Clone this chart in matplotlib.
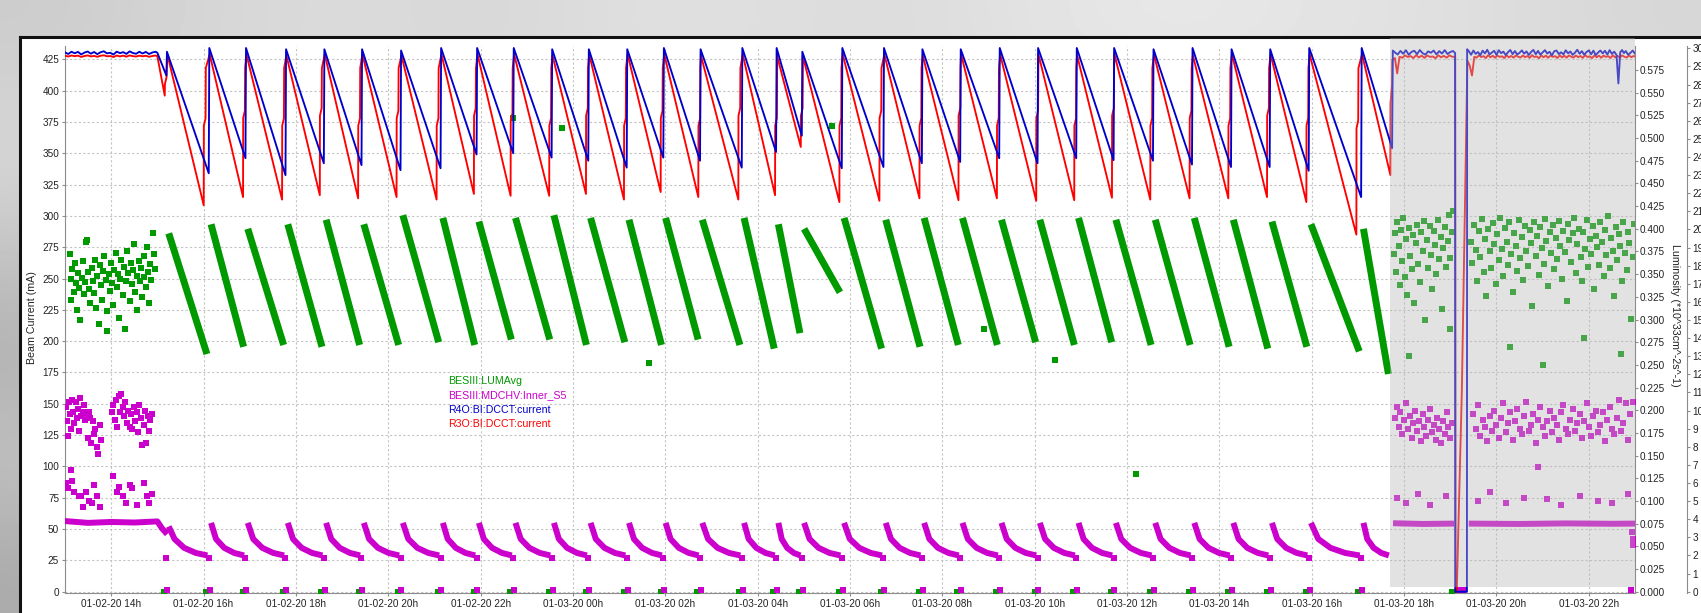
import numpy as np
import pandas as pd
import matplotlib
matplotlib.use("Agg")
import matplotlib.pyplot as plt
import matplotlib.dates as mdates
from matplotlib.patches import Rectangle
from matplotlib.lines import Line2D

# ============================================================
# Data  (times are hours after 2020-01-02 00:00)
# ============================================================
T0 = pd.Timestamp("2020-01-02 00:00")

# flat beam current before the first decay
flat_t = [13.00, 13.07, 13.14, 13.21, 13.28, 13.35, 13.42, 13.49, 13.56, 13.63,
          13.70, 13.77, 13.84, 13.91, 13.98, 14.05, 14.12, 14.19, 14.26, 14.33,
          14.40, 14.47, 14.54, 14.61, 14.68, 14.75, 14.82, 14.89, 14.96, 15.00]
blue_flat = [430.5, 429.2, 431.0, 429.8, 430.9, 428.9, 430.3, 431.2, 429.5, 430.8,
             429.1, 430.6, 431.4, 429.7, 430.2, 428.8, 431.1, 429.9, 430.7, 429.3,
             431.3, 430.0, 429.4, 431.0, 429.6, 430.9, 429.2, 430.4, 431.0, 430.2]
red_flat = [427.8, 427.2, 428.0, 427.5, 427.9, 426.9, 427.6, 428.1, 427.3, 427.7,
            427.0, 427.8, 428.2, 427.4, 427.6, 426.8, 428.0, 427.3, 427.9, 427.1,
            428.1, 427.5, 427.2, 427.9, 427.4, 427.8, 427.0, 427.6, 428.0, 427.5]

# injection cycles: time of refill and current just before it
blue_inj = [15.196, 16.113, 16.908, 17.775, 18.605, 19.421, 20.266, 21.133, 21.913, 22.706,
            23.538, 24.332, 25.164, 25.957, 26.752, 27.656, 28.399, 28.956, 29.822, 30.724,
            31.556, 32.386, 33.231, 34.061, 34.899, 35.708, 36.561, 37.406, 38.251, 39.088,
            39.933, 41.069]
blue_low = [412, 334, 346, 332.5, 342, 340.5, 336.5, 338, 349, 350,
            346.5, 344, 338.5, 346.5, 344, 338.5, 351, 364, 338, 339,
            342, 343, 346, 342, 346, 344.5, 344, 341, 339, 339,
            336, 315]
blue_peak = [431, 434, 434, 433, 433, 433, 432, 434, 434, 434,
             433, 433, 433, 434, 433, 434, 434, 431, 434, 434,
             433, 433, 434, 434, 434, 434, 433, 434, 433, 433,
             434, 434]
red_inj = [15.160, 16.004, 16.856, 17.701, 18.518, 19.348, 20.180, 21.047, 21.855, 22.650,
           23.486, 24.282, 25.105, 25.900, 26.715, 27.582, 28.377, 28.934, 29.770, 30.637,
           31.504, 32.349, 33.181, 34.033, 34.856, 35.673, 36.503, 37.354, 38.193, 39.031,
           39.883, 40.966]
red_low = [396, 308.5, 315, 313, 316.5, 314, 315, 313, 317.5, 316,
           316, 317.5, 313, 319, 315, 313, 316.5, 355, 311, 312,
           314, 312.5, 314, 312, 312.5, 314.5, 313, 314, 314, 315,
           311, 285]
red_step = [405, 372, 378, 372, 380, 372, 378, 372, 380, 376,
            372, 380, 372, 378, 372, 380, 372, 380, 372, 378,
            372, 380, 372, 378, 372, 380, 372, 378, 372, 380,
            372, 370]
red_peak = [429, 429, 429, 428, 429, 429, 428, 429, 429, 429,
            428, 429, 429, 429, 428, 429, 428, 428, 429, 429,
            428, 429, 429, 429, 428, 429, 429, 428, 429, 429,
            429, 429]

# shaded period (beam kept topped up, one beam loss)
shade_start, shade_end = 41.688, 47.0
blue_gray_t = [41.740, 41.755, 41.80, 41.86, 41.92, 41.98, 42.04, 42.10, 42.16, 42.22,
               42.28, 42.34, 42.40, 42.46, 42.52, 42.58, 42.64, 42.70, 42.76, 42.82,
               42.88, 42.94, 43.00, 43.06, 43.105, 43.110, 43.360, 43.365, 43.40, 43.45,
               43.50, 43.55, 43.60, 43.65, 43.70, 43.75, 43.80, 43.85, 43.90, 43.95,
               44.00, 44.05, 44.10, 44.15, 44.20, 44.25, 44.30, 44.35, 44.40, 44.45,
               44.50, 44.55, 44.60, 44.65, 44.70, 44.75, 44.80, 44.85, 44.90, 44.95,
               45.00, 45.05, 45.10, 45.15, 45.20, 45.25, 45.30, 45.35, 45.40, 45.45,
               45.50, 45.55, 45.60, 45.65, 45.70, 45.75, 45.80, 45.85, 45.90, 45.95,
               46.00, 46.05, 46.10, 46.15, 46.20, 46.25, 46.30, 46.35, 46.40, 46.45,
               46.50, 46.55, 46.60, 46.64, 46.68, 46.72, 46.76, 46.80, 46.85, 46.90,
               46.95, 47.00]
blue_gray_v = [354, 432, 430.5, 428.8, 431.7, 429.4, 432.2, 428.6, 430.9, 431.8,
               429.1, 432.4, 429.9, 428.7, 431.3, 430.2, 432.0, 428.9, 431.5, 429.6,
               432.3, 429.2, 430.8, 431.6, 430, 0, 0, 433, 431.5, 428.6,
               432.0, 429.3, 430.8, 428.2, 431.9, 429.7, 432.6, 428.9, 430.4, 431.8,
               428.5, 432.2, 429.9, 431.1, 428.3, 430.7, 432.4, 429.1, 431.6, 428.8,
               430.2, 432.1, 429.5, 431.3, 428.4, 430.9, 432.5, 429.0, 431.7, 428.7,
               430.5, 432.3, 429.6, 431.0, 428.1, 431.4, 432.0, 429.2, 430.6, 428.9,
               432.2, 429.8, 431.2, 428.5, 430.3, 432.6, 429.4, 431.5, 428.6, 430.8,
               432.1, 429.0, 431.9, 428.3, 430.4, 432.0, 429.7, 431.8, 428.8, 432.3,
               429.3, 431.1, 428.4, 405.7, 430.6, 432.4, 429.9, 431.6, 428.7, 430.1,
               432.0, 429.5]
red_gray_t = [41.703, 41.706, 41.740, 41.745, 41.80, 41.85, 41.90, 41.96, 42.02, 42.08,
              42.14, 42.20, 42.26, 42.32, 42.38, 42.44, 42.50, 42.56, 42.62, 42.68,
              42.74, 42.80, 42.86, 42.92, 42.98, 43.04, 43.105, 43.110, 43.14, 43.25,
              43.37, 43.42, 43.47, 43.52, 43.57, 43.62, 43.67, 43.72, 43.77, 43.82,
              43.87, 43.92, 43.97, 44.02, 44.07, 44.12, 44.17, 44.22, 44.27, 44.32,
              44.37, 44.42, 44.47, 44.52, 44.57, 44.62, 44.67, 44.72, 44.77, 44.82,
              44.87, 44.92, 44.97, 45.02, 45.07, 45.12, 45.17, 45.22, 45.27, 45.32,
              45.37, 45.42, 45.47, 45.52, 45.57, 45.62, 45.67, 45.72, 45.77, 45.82,
              45.87, 45.92, 45.97, 46.02, 46.07, 46.12, 46.17, 46.22, 46.27, 46.32,
              46.37, 46.42, 46.47, 46.52, 46.57, 46.62, 46.67, 46.72, 46.77, 46.82,
              46.87, 46.92, 46.97, 47.00]
red_gray_v = [332.5, 390, 405, 424, 426, 413.7, 427, 426.2, 428.1, 426.8,
              427.6, 425.9, 428.3, 426.5, 427.9, 426.1, 428.0, 426.9, 427.3, 425.8,
              428.2, 426.6, 427.7, 426.3, 428.1, 427.0, 427, 0, 0, 160,
              424, 420, 412, 427, 426.3, 428.2, 426.8, 427.5, 426.0, 428.3,
              426.6, 427.8, 426.2, 428.0, 426.9, 427.4, 425.9, 428.2, 426.5, 427.7,
              426.3, 428.1, 427.0, 426.4, 428.0, 426.7, 427.6, 426.1, 428.3, 426.8,
              427.3, 425.8, 428.1, 426.6, 427.9, 426.2, 428.0, 426.9, 427.5, 426.0,
              428.2, 426.5, 427.8, 426.3, 428.1, 427.0, 426.4, 428.0, 426.7, 427.6,
              426.1, 428.3, 426.8, 427.3, 425.9, 428.1, 426.6, 427.9, 426.2, 428.0,
              426.9, 427.5, 426.0, 428.2, 426.5, 427.8, 426.3, 428.1, 427.0, 426.4,
              428.0, 426.7, 427.6, 427.2]

# BESIII:LUMAvg (luminosity axis), one decaying stripe per fill
green_top = [0.395, 0.405, 0.400, 0.405, 0.410, 0.405, 0.415, 0.412, 0.408, 0.412,
             0.415, 0.412, 0.410, 0.412, 0.410, 0.412, 0.405, 0.400, 0.412, 0.410,
             0.412, 0.412, 0.410, 0.410, 0.412, 0.410, 0.410, 0.412, 0.410, 0.408,
             0.405, 0.400]
green_bot = [0.262, 0.270, 0.272, 0.270, 0.272, 0.272, 0.275, 0.272, 0.278, 0.278,
             0.272, 0.275, 0.272, 0.278, 0.272, 0.268, 0.285, 0.330, 0.268, 0.270,
             0.272, 0.272, 0.275, 0.272, 0.275, 0.272, 0.272, 0.270, 0.268, 0.270,
             0.265, 0.240]
green_cloud_t = [13.10, 13.12, 13.14, 13.16, 13.19, 13.21, 13.24, 13.26, 13.28, 13.31,
                 13.33, 13.36, 13.38, 13.41, 13.43, 13.46, 13.48, 13.50, 13.53, 13.55,
                 13.58, 13.60, 13.63, 13.65, 13.68, 13.70, 13.73, 13.75, 13.78, 13.80,
                 13.83, 13.85, 13.88, 13.90, 13.92, 13.95, 13.97, 14.00, 14.02, 14.05,
                 14.07, 14.10, 14.12, 14.15, 14.17, 14.20, 14.22, 14.25, 14.27, 14.30,
                 14.32, 14.35, 14.37, 14.40, 14.42, 14.45, 14.47, 14.50, 14.52, 14.55,
                 14.57, 14.60, 14.62, 14.65, 14.67, 14.70, 14.72, 14.75, 14.77, 14.80,
                 14.82, 14.85, 14.87, 14.90, 14.92, 14.95]
green_cloud_v = [0.372, 0.345, 0.322, 0.356, 0.330, 0.362, 0.340, 0.310, 0.351, 0.335,
                 0.300, 0.346, 0.365, 0.328, 0.341, 0.385, 0.388, 0.352, 0.334, 0.318,
                 0.357, 0.343, 0.329, 0.366, 0.313, 0.348, 0.295, 0.360, 0.338, 0.322,
                 0.353, 0.370, 0.344, 0.309, 0.287, 0.350, 0.331, 0.362, 0.340, 0.316,
                 0.355, 0.373, 0.336, 0.350, 0.302, 0.345, 0.366, 0.327, 0.358, 0.290,
                 0.343, 0.376, 0.351, 0.320, 0.362, 0.339, 0.355, 0.383, 0.330, 0.348,
                 0.311, 0.364, 0.342, 0.357, 0.325, 0.370, 0.347, 0.336, 0.380, 0.352,
                 0.318, 0.361, 0.344, 0.395, 0.372, 0.356]
green_gray_t = [41.78, 41.80, 41.83, 41.85, 41.88, 41.90, 41.93, 41.95, 41.98, 42.01,
                42.04, 42.07, 42.10, 42.13, 42.16, 42.19, 42.22, 42.25, 42.28, 42.31,
                42.34, 42.37, 42.40, 42.43, 42.46, 42.49, 42.52, 42.55, 42.58, 42.61,
                42.64, 42.67, 42.70, 42.73, 42.76, 42.79, 42.82, 42.85, 42.88, 42.91,
                42.94, 42.97, 43.00, 43.03, 43.06,
                43.45, 43.48, 43.52, 43.55, 43.58, 43.62, 43.65, 43.68, 43.72, 43.75,
                43.78, 43.82, 43.85, 43.88, 43.92, 43.95, 43.98, 44.02, 44.05, 44.08,
                44.12, 44.15, 44.18, 44.22, 44.25, 44.28, 44.32, 44.35, 44.38, 44.42,
                44.45, 44.48, 44.52, 44.55, 44.58, 44.62, 44.65, 44.68, 44.72, 44.75,
                44.78, 44.82, 44.85, 44.88, 44.92, 44.95, 44.98, 45.02, 45.05, 45.08,
                45.12, 45.15, 45.18, 45.22, 45.25, 45.28, 45.32, 45.35, 45.38, 45.42,
                45.45, 45.48, 45.52, 45.55, 45.58, 45.62, 45.65, 45.68, 45.72, 45.75,
                45.78, 45.82, 45.85, 45.88, 45.92, 45.95, 45.98, 46.02, 46.05, 46.08,
                46.12, 46.15, 46.18, 46.22, 46.25, 46.28, 46.32, 46.35, 46.38, 46.42,
                46.45, 46.48, 46.52, 46.55, 46.58, 46.62, 46.65, 46.68, 46.72, 46.75,
                46.78, 46.82, 46.85, 46.88, 46.92, 46.95, 46.98,
                42.10, 43.00, 44.30, 45.00, 45.90, 46.70]
green_gray_v = [0.372, 0.395, 0.352, 0.408, 0.381, 0.338, 0.399, 0.365, 0.412, 0.347,
                0.389, 0.327, 0.401, 0.370, 0.356, 0.393, 0.318, 0.384, 0.404, 0.361,
                0.341, 0.396, 0.376, 0.409, 0.300, 0.388, 0.357, 0.403, 0.371, 0.334,
                0.398, 0.382, 0.350, 0.410, 0.367, 0.391, 0.312, 0.379, 0.402, 0.358,
                0.387, 0.415, 0.368, 0.397, 0.420,
                0.385, 0.362, 0.404, 0.377, 0.343, 0.398, 0.369, 0.411, 0.352, 0.389,
                0.326, 0.400, 0.375, 0.357, 0.406, 0.383, 0.339, 0.394, 0.366, 0.412,
                0.378, 0.348, 0.401, 0.386, 0.360, 0.408, 0.372, 0.330, 0.395, 0.381,
                0.353, 0.410, 0.368, 0.391, 0.344, 0.403, 0.376, 0.359, 0.399, 0.384,
                0.315, 0.407, 0.370, 0.392, 0.349, 0.402, 0.379, 0.361, 0.411, 0.387,
                0.337, 0.396, 0.373, 0.404, 0.356, 0.390, 0.367, 0.409, 0.381, 0.345,
                0.398, 0.374, 0.320, 0.405, 0.388, 0.363, 0.395, 0.412, 0.351, 0.383,
                0.400, 0.369, 0.342, 0.397, 0.378, 0.410, 0.358, 0.389, 0.372, 0.403,
                0.334, 0.392, 0.380, 0.360, 0.407, 0.385, 0.348, 0.399, 0.371, 0.414,
                0.357, 0.390, 0.376, 0.326, 0.402, 0.366, 0.394, 0.381, 0.343, 0.408,
                0.373, 0.355, 0.397, 0.384, 0.301, 0.369, 0.405,
                0.260, 0.290, 0.270, 0.250, 0.280, 0.262]
green_odd_t = [22.70, 23.77, 29.60, 25.65, 32.90, 34.45, 36.20]
green_odd_v = [0.522, 0.511, 0.513, 0.252, 0.290, 0.255, 0.130]

# BESIII:MDCHV:Inner_S5 (third axis), decaying curve per fill
mag_shape_frac = [0.0, 0.15, 0.4, 0.7, 1.0]
mag_shape_val = [3.80, 2.91, 2.42, 2.14, 2.00]
mag_flat_t = [13.00, 13.50, 14.00, 14.50, 15.00, 15.10, 15.17]
mag_flat_v = [3.90, 3.80, 3.85, 3.82, 3.88, 3.50, 3.30]
mag_hi_t = [13.02, 13.04, 13.06, 13.08, 13.10, 13.13, 13.15, 13.18, 13.20, 13.23,
            13.25, 13.28, 13.30, 13.33, 13.35, 13.38, 13.41, 13.43, 13.46, 13.49,
            13.52, 13.55, 13.57, 13.60, 13.62, 13.66, 13.70, 13.72, 13.75, 13.78,
            14.02, 14.05, 14.08, 14.10, 14.13, 14.16, 14.19, 14.22, 14.25, 14.28,
            14.31, 14.34, 14.37, 14.40, 14.43, 14.46, 14.49, 14.52, 14.55, 14.58,
            14.61, 14.64, 14.67, 14.70, 14.73, 14.76, 14.79, 14.82, 14.85, 14.88]
mag_hi_v = [10.2, 9.4, 8.6, 10.5, 9.8, 9.0, 10.6, 9.9, 9.3, 10.5,
            9.6, 10.1, 8.9, 10.7, 9.7, 9.9, 10.3, 9.5, 9.8, 8.5,
            9.9, 9.6, 8.2, 9.4, 8.7, 9.0, 8.0, 7.6, 9.2, 8.4,
            9.9, 10.3, 9.5, 10.6, 9.1, 10.8, 9.9, 10.9, 10.2, 9.7,
            10.5, 9.3, 10.0, 9.1, 9.8, 9.0, 10.2, 9.4, 9.9, 8.8,
            10.3, 9.6, 8.1, 9.2, 10.0, 8.2, 9.7, 8.9, 9.5, 9.8]
mag_mid_t = [13.03, 13.06, 13.12, 13.15, 13.20, 13.30, 13.35, 13.40, 13.45, 13.52,
             13.58, 13.63, 13.70, 13.75, 14.05, 14.12, 14.18, 14.25, 14.33, 14.40,
             14.45, 14.55, 14.70, 14.78, 14.82, 14.88]
mag_mid_v = [6.0, 5.7, 6.7, 6.1, 5.5, 5.3, 5.3, 4.7, 5.5, 5.0,
             4.9, 5.9, 5.3, 4.7, 6.4, 5.5, 5.8, 5.3, 4.9, 5.9,
             5.7, 4.8, 6.0, 5.3, 4.9, 5.4]
mag_gray_hi_t = [41.80, 41.84, 41.88, 41.92, 41.96, 42.00, 42.04, 42.08, 42.12, 42.16,
                 42.20, 42.24, 42.28, 42.32, 42.36, 42.40, 42.44, 42.48, 42.52, 42.56,
                 42.60, 42.64, 42.68, 42.72, 42.76, 42.80, 42.84, 42.88, 42.92, 42.96,
                 43.00, 43.04,
                 43.50, 43.55, 43.60, 43.65, 43.70, 43.75, 43.80, 43.85, 43.90, 43.95,
                 44.00, 44.05, 44.10, 44.15, 44.20, 44.25, 44.30, 44.35, 44.40, 44.45,
                 44.50, 44.55, 44.60, 44.65, 44.70, 44.75, 44.80, 44.85, 44.90, 44.95,
                 45.00, 45.05, 45.10, 45.15, 45.20, 45.25, 45.30, 45.35, 45.40, 45.45,
                 45.50, 45.55, 45.60, 45.65, 45.70, 45.75, 45.80, 45.85, 45.90, 45.95,
                 46.00, 46.05, 46.10, 46.15, 46.20, 46.25, 46.30, 46.35, 46.40, 46.45,
                 46.50, 46.55, 46.60, 46.65, 46.70, 46.75, 46.80, 46.85, 46.90, 46.95]
mag_gray_hi_v = [9.6, 10.2, 9.1, 9.9, 8.7, 9.5, 10.4, 9.0, 9.7, 8.5,
                 9.3, 10.0, 8.9, 9.4, 8.3, 9.8, 9.1, 8.6, 9.5, 10.1,
                 8.8, 9.2, 8.4, 9.6, 9.0, 8.2, 9.4, 8.7, 9.9, 9.1,
                 8.5, 9.3,
                 9.8, 9.0, 10.3, 8.6, 9.5, 9.1, 8.3, 9.7, 8.9, 10.0,
                 9.2, 8.5, 9.6, 10.4, 8.8, 9.3, 9.9, 8.4, 9.4, 10.1,
                 9.0, 8.7, 9.7, 10.5, 8.9, 9.2, 9.8, 8.2, 9.5, 10.2,
                 9.1, 8.6, 9.4, 10.0, 8.8, 9.6, 9.2, 8.4, 9.9, 10.3,
                 9.0, 8.7, 9.5, 10.1, 8.9, 9.3, 9.8, 8.5, 9.4, 10.4,
                 9.1, 8.6, 9.7, 10.0, 8.8, 9.2, 9.9, 8.3, 9.5, 10.2,
                 9.0, 8.7, 9.6, 10.6, 8.9, 9.3, 10.4, 8.4, 9.8, 10.5]
mag_gray_flat_t = [[41.76, 42.40, 43.08], [43.40, 44.50, 45.50, 46.50, 47.00]]
mag_gray_flat_v = [[3.78, 3.74, 3.76], [3.76, 3.74, 3.77, 3.75, 3.76]]
mag_gray_mid_t = [41.85, 42.05, 42.30, 42.55, 42.90, 43.60, 43.85, 44.20, 44.60, 44.90,
                  45.10, 45.40, 45.80, 46.20, 46.50, 46.85, 46.93, 46.95, 46.96]
mag_gray_mid_v = [5.2, 4.9, 5.4, 4.8, 5.3, 5.0, 5.5, 4.9, 5.2, 6.9,
                  5.1, 4.8, 5.3, 5.0, 4.9, 5.4, 3.3, 2.9, 2.6]

# blurred screen background around the chart panel (grey levels)
bg_levels = [[0.80, 0.84, 0.86, 0.84, 0.88, 0.87, 0.86, 0.90, 0.91, 0.89, 0.87, 0.84],
             [0.85, 0.86, 0.86, 0.86, 0.86, 0.86, 0.86, 0.86, 0.86, 0.86, 0.86, 0.86],
             [0.76, 0.86, 0.86, 0.86, 0.86, 0.86, 0.86, 0.86, 0.86, 0.86, 0.86, 0.86],
             [0.68, 0.86, 0.86, 0.86, 0.86, 0.86, 0.86, 0.86, 0.86, 0.86, 0.86, 0.86],
             [0.76, 0.86, 0.86, 0.86, 0.86, 0.86, 0.86, 0.86, 0.86, 0.86, 0.86, 0.86],
             [0.66, 0.86, 0.86, 0.86, 0.86, 0.86, 0.86, 0.86, 0.86, 0.86, 0.86, 0.86]]

# ============================================================
# Styling
# ============================================================
GREEN = "#009900"
MAGENTA = "#cc00cc"
BLUE = "#0000cc"
RED = "#ff0000"
TICK_FONT = 7.2
LABEL_FONT = 7.7
W, H = 1701, 613
AX_L, AX_R, AX_T, AX_B = 65, 1635, 46, 593

plt.rcParams["font.family"] = ["Liberation Sans", "DejaVu Sans"]


def to_time(hours):
    return T0 + pd.to_timedelta(np.asarray(hours, dtype=float), unit="h")


# ============================================================
# Build line vertices from the fills
# ============================================================
def blue_path():
    t = list(flat_t)
    v = list(blue_flat)
    for i in range(len(blue_inj)):
        t += [blue_inj[i], blue_inj[i] + 0.012]
        v += [blue_low[i], blue_peak[i]]
    return t + blue_gray_t, v + blue_gray_v


def red_path():
    t = list(flat_t)
    v = list(red_flat)
    for i in range(len(red_inj)):
        t += [red_inj[i], red_inj[i] + 0.003, red_inj[i] + 0.04, red_inj[i] + 0.045,
              blue_inj[i] + 0.02]
        v += [red_low[i], red_step[i], red_step[i] + 6, 418, red_peak[i]]
    return t + red_gray_t, v + red_gray_v


# ============================================================
# Figure
# ============================================================
fig = plt.figure(figsize=(W / 100, H / 100), dpi=100)
fig.patch.set_facecolor("#d8d8d8")

ax_bg = fig.add_axes([0, 0, 1, 1], zorder=-20)
ax_bg.imshow(bg_levels, cmap="gray", vmin=0, vmax=1, aspect="auto",
             interpolation="bicubic", extent=(0, 1, 0, 1))
ax_bg.set_axis_off()

fig.patches.append(Rectangle((20 / W, 0), 1 - 20 / W, (H - 37) / H,
                             transform=fig.transFigure, facecolor="white",
                             edgecolor="none", zorder=-10))
fig.lines.append(Line2D([20 / W, 20 / W], [0, (H - 37) / H], transform=fig.transFigure,
                        color="#111111", lw=2.2, zorder=-9))
fig.lines.append(Line2D([20 / W, 1], [(H - 37) / H, (H - 37) / H], transform=fig.transFigure,
                        color="#111111", lw=2.2, zorder=-9))

rect = [AX_L / W, (H - AX_B) / H, (AX_R - AX_L) / W, (AX_B - AX_T) / H]
ax = fig.add_axes(rect)
ax_lum = ax.twinx()
ax_hv = ax.twinx()
ax_cur = ax.twinx()

ax.set_ylim(-1.04, 435.6)
ax_cur.set_ylim(-1.04, 435.6)
ax_lum.set_ylim(-0.0014, 0.6015)
ax_hv.set_ylim(-0.072, 30.13)
x0, x1 = to_time([13.0, 47.0])
ax.set_xlim(x0, x1)

# --- green luminosity
for j in range(len(blue_inj)):
    t_end = blue_inj[j + 1] if j + 1 < len(blue_inj) else 41.70
    ts = to_time([blue_inj[j] + 0.05, t_end - 0.04])
    ax_lum.plot(ts, [green_top[j], green_bot[j]], color=GREEN, lw=5.0,
                solid_capstyle="butt")
ax_lum.scatter(to_time(green_cloud_t), green_cloud_v, marker="s", s=17, color=GREEN, lw=0)
ax_lum.scatter(to_time(green_gray_t), green_gray_v, marker="s", s=17, color=GREEN, lw=0)
ax_lum.scatter(to_time(green_odd_t), green_odd_v, marker="s", s=17, color=GREEN, lw=0)
ax_lum.scatter(to_time(np.array(blue_inj + [43.10]) - 0.06), np.zeros(len(blue_inj) + 1),
               marker="s", s=17, color=GREEN, lw=0)

# --- magenta MDC HV
for j in range(len(blue_inj)):
    t_start = blue_inj[j] + 0.05
    t_end = (blue_inj[j + 1] if j + 1 < len(blue_inj) else 41.70) - 0.03
    ts = [t_start + f * (t_end - t_start) for f in mag_shape_frac]
    vs = list(mag_shape_val)
    if j == 0:
        vs[0] = 3.6
    ax_hv.plot(to_time(ts), vs, color=MAGENTA, lw=4.3, solid_capstyle="butt")
ax_hv.plot(to_time(mag_flat_t), mag_flat_v, color=MAGENTA, lw=4.3)
for ft, fv in zip(mag_gray_flat_t, mag_gray_flat_v):
    ax_hv.plot(to_time(ft), fv, color=MAGENTA, lw=4.3, solid_capstyle="butt")
ax_hv.scatter(to_time(mag_hi_t), mag_hi_v, marker="s", s=17, color=MAGENTA, lw=0)
ax_hv.scatter(to_time(mag_mid_t), mag_mid_v, marker="s", s=17, color=MAGENTA, lw=0)
ax_hv.scatter(to_time(mag_gray_hi_t), mag_gray_hi_v, marker="s", s=17, color=MAGENTA, lw=0)
ax_hv.scatter(to_time(mag_gray_mid_t), mag_gray_mid_v, marker="s", s=17, color=MAGENTA, lw=0)
ax_hv.scatter(to_time(blue_inj), [1.87] * len(blue_inj), marker="s", s=17, color=MAGENTA, lw=0)
ax_hv.scatter(to_time(np.array(blue_inj + [43.15, 43.25, 46.9]) + 0.02),
              [0.1] * (len(blue_inj) + 3), marker="s", s=17, color=MAGENTA, lw=0)

# --- beam currents
bt, bv = blue_path()
rt, rv = red_path()
ax_cur.plot(to_time(rt), rv, color=RED, lw=1.35)
ax_cur.plot(to_time(bt), bv, color=BLUE, lw=1.35)
ax_cur.axvspan(to_time([shade_start])[0], to_time([shade_end])[0], ymin=0.0104,
               ymax=(AX_B - 38) / (AX_B - AX_T), clip_on=False,
               facecolor="#b8b8b8", alpha=0.4, lw=0, zorder=10)

# --- axes cosmetics
for a in (ax, ax_lum, ax_hv, ax_cur):
    a.spines["top"].set_visible(False)
    for s in a.spines.values():
        s.set_color("#8c8c8c")
ax_cur.set_axis_off()
ax.spines["right"].set_visible(False)
ax_lum.spines["left"].set_visible(False)
ax_hv.spines["left"].set_visible(False)
ax_hv.spines["bottom"].set_visible(False)
ax_lum.spines["bottom"].set_visible(False)
ax_hv.spines["right"].set_position(("outward", 37.4))

ax.set_yticks(np.arange(0, 426, 25))
ax.tick_params(axis="y", length=2.4, pad=1.8, labelsize=TICK_FONT, colors="#8c8c8c",
               labelcolor="#222222")
ax.tick_params(axis="x", length=1.8, pad=2.6, labelsize=TICK_FONT, colors="#8c8c8c",
               labelcolor="#222222")
ax.xaxis.set_major_locator(mdates.HourLocator(byhour=range(0, 24, 2)))
ax.xaxis.set_major_formatter(mdates.DateFormatter("%m-%d-%y %Hh"))
ax.grid(True, color="#c4c4c4", lw=0.8, ls=(0, (2, 2)))

ax_lum.set_yticks(np.arange(0, 0.576, 0.025))
ax_lum.yaxis.set_major_formatter(matplotlib.ticker.FormatStrFormatter("%.3f"))
ax_lum.tick_params(axis="y", length=1.8, pad=1.5, labelsize=TICK_FONT, colors="#8c8c8c",
                   labelcolor="#222222")
ax_hv.set_yticks(np.arange(0, 31, 1))
ax_hv.tick_params(axis="y", length=2.2, pad=1.8, labelsize=TICK_FONT, colors="#8c8c8c",
                  labelcolor="#222222")

ax.set_ylabel("Beam Current (mA)", fontsize=LABEL_FONT, color="#222222")
ax.yaxis.set_label_coords((37.0 - AX_L) / (AX_R - AX_L), 0.503)
ax_lum.set_ylabel("Luminosity (*10^33cm^-2s^-1)", fontsize=LABEL_FONT, color="#222222",
                  rotation=270, va="center")
ax_lum.yaxis.set_label_coords((1675 - AX_L) / (AX_R - AX_L), 0.508)

# --- legend as coloured text
legend_items = ["BESIII:LUMAvg", "BESIII:MDCHV:Inner_S5", "R4O:BI:DCCT:current",
                "R3O:BI:DCCT:current"]
legend_colors = [GREEN, MAGENTA, BLUE, RED]
for k, (name, col) in enumerate(zip(legend_items, legend_colors)):
    fig.text(447.7 / W, 1 - (381 + 14.3 * k) / H, name, color=col, fontsize=LABEL_FONT,
             va="center", ha="left")

fig.savefig("out.png", dpi=100, facecolor=fig.get_facecolor())
